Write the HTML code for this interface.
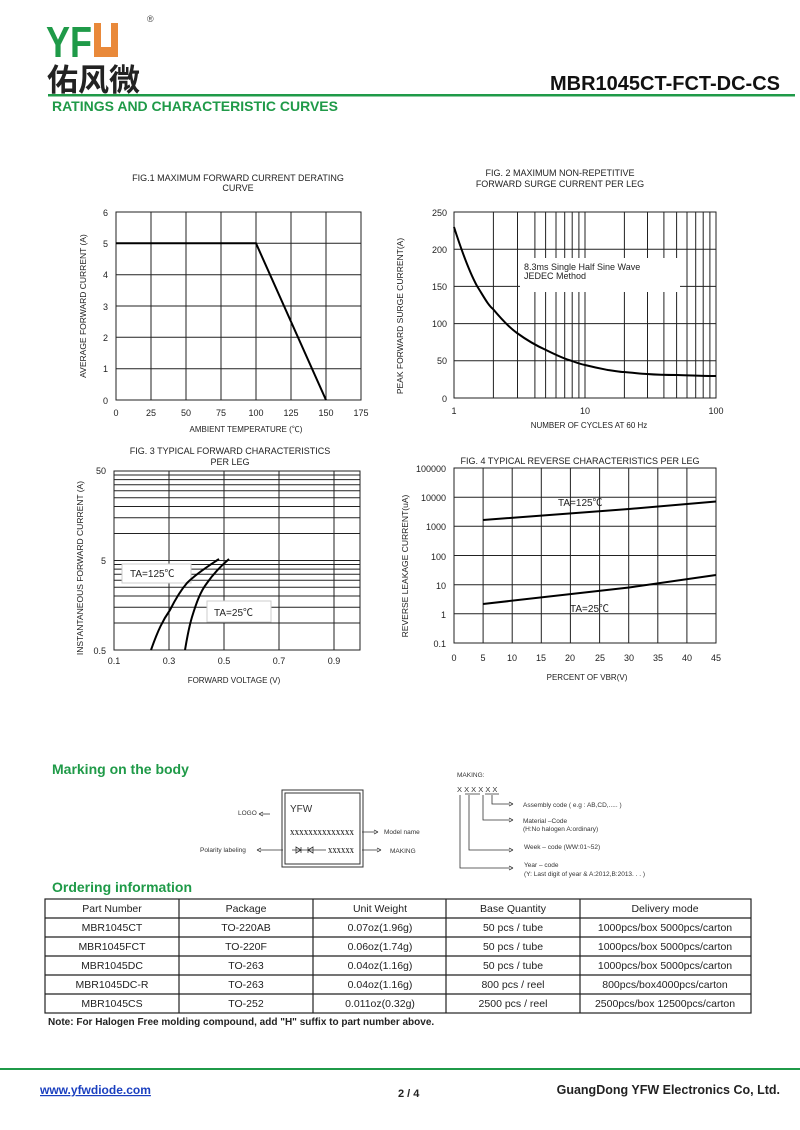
<!DOCTYPE html>
<html><head><meta charset="utf-8"><style>
html,body{margin:0;padding:0;background:#fff;}
svg{display:block;font-family:"Liberation Sans","Noto Sans CJK SC",sans-serif;}
</style></head><body>
<svg width="800" height="1130" viewBox="0 0 800 1130" xmlns="http://www.w3.org/2000/svg">
<!-- Header -->
<text x="46" y="57" font-size="44" font-weight="bold" fill="#1f9a48" textLength="46" lengthAdjust="spacingAndGlyphs">YF</text>
<rect x="94" y="23" width="24" height="34" fill="#e9893a"/>
<rect x="101" y="23" width="10" height="24" fill="#fff"/>
<text x="147" y="22" font-size="9" fill="#444">®</text>
<text x="47" y="91" font-size="31" font-weight="bold" fill="#222" font-family="'Noto Sans CJK SC',sans-serif">佑风微</text>
<text x="780" y="90" font-size="20" font-weight="bold" fill="#111" text-anchor="end">MBR1045CT-FCT-DC-CS</text>
<rect x="48" y="94" width="747" height="2.5" fill="#1f9a48"/>
<text x="52" y="111" font-size="14" font-weight="bold" fill="#1f9a48">RATINGS AND CHARACTERISTIC CURVES</text>

<g font-size="9" fill="#222">
<!-- FIG 1 -->
<text x="238" y="181" text-anchor="middle">FIG.1 MAXIMUM FORWARD CURRENT DERATING</text>
<text x="238" y="191" text-anchor="middle">CURVE</text>
<g stroke="#222" stroke-width="1">
<rect x="116" y="212" width="245" height="188" fill="none"/>
<path d="M151 212V400M186 212V400M221 212V400M256 212V400M291 212V400M326 212V400M116 243.3H361M116 274.7H361M116 306H361M116 337.3H361M116 368.7H361"/>
</g>
<path d="M116 243.3H256L326 400" fill="none" stroke="#000" stroke-width="2"/>
<g text-anchor="end"><text x="108" y="216">6</text><text x="108" y="247">5</text><text x="108" y="278">4</text><text x="108" y="310">3</text><text x="108" y="341">2</text><text x="108" y="372">1</text><text x="108" y="404">0</text></g>
<g text-anchor="middle"><text x="116" y="416">0</text><text x="151" y="416">25</text><text x="186" y="416">50</text><text x="221" y="416">75</text><text x="256" y="416">100</text><text x="291" y="416">125</text><text x="326" y="416">150</text><text x="361" y="416">175</text>
<text x="246" y="432" font-size="8">AMBIENT TEMPERATURE (℃)</text></g>
<text transform="translate(86,306) rotate(-90)" text-anchor="middle" font-size="8.5">AVERAGE FORWARD CURRENT (A)</text>

<!-- FIG 2 -->
<text x="560" y="176" text-anchor="middle">FIG. 2 MAXIMUM NON-REPETITIVE</text>
<text x="560" y="187" text-anchor="middle">FORWARD SURGE CURRENT PER LEG</text>
<g stroke="#222" stroke-width="1">
<rect x="454" y="212" width="262" height="186" fill="none"/>
<path d="M493.4 212V398M517.5 212V398M534.9 212V398M545.6 212V398M556 212V398M564.7 212V398M572.2 212V398M578.9 212V398M585 212V398M624.4 212V398M647.5 212V398M663.9 212V398M676.6 212V398M687 212V398M695.7 212V398M703.2 212V398M709.9 212V398M454 360.8H716M454 323.6H716M454 286.4H716M454 249.2H716"/>
</g>
<rect x="520" y="258" width="160" height="34" fill="#fff"/>
<path d="M454 227 C462 252,470 273,477 286 C484 297,488 305,493 309 C503 321,510 328,517 333 C528 341,537 346,546 350 C556 355,565 359,572 361 C580 364,585 365,585 365 C597 368,603 369,608 370 C616 371,620 372,624 372 C636 373,641 374,647 374 C660 375,670 375,677 375 C695 375.5,705 376,716 376" fill="none" stroke="#000" stroke-width="2"/>
<text x="524" y="270">8.3ms Single Half Sine Wave</text>
<text x="524" y="279">JEDEC Method</text>
<g text-anchor="end"><text x="447" y="216">250</text><text x="447" y="253">200</text><text x="447" y="290">150</text><text x="447" y="327">100</text><text x="447" y="364">50</text><text x="447" y="402">0</text></g>
<g text-anchor="middle"><text x="454" y="414">1</text><text x="585" y="414">10</text><text x="716" y="414">100</text>
<text x="589" y="428" font-size="8">NUMBER OF CYCLES AT 60 Hz</text></g>
<text transform="translate(403,316) rotate(-90)" text-anchor="middle" font-size="8.5">PEAK FORWARD SURGE CURRENT(A)</text>

<!-- FIG 3 -->
<text x="230" y="454" text-anchor="middle">FIG. 3 TYPICAL FORWARD CHARACTERISTICS</text>
<text x="230" y="465" text-anchor="middle">PER LEG</text>
<g stroke="#222" stroke-width="1">
<rect x="114" y="471" width="246" height="179" fill="none"/>
<path d="M169 471V650M224 471V650M279 471V650M334 471V650
M114 623H360M114 607.2H360M114 596H360M114 587.3H360M114 580.2H360M114 574.3H360M114 569.1H360M114 564.5H360M114 560.5H360
M114 533.5H360M114 517.7H360M114 506.5H360M114 497.8H360M114 490.7H360M114 484.8H360M114 479.6H360M114 475H360"/>
</g>
<rect x="122" y="564" width="69" height="19" fill="#fff" stroke="#ccc"/>
<rect x="207" y="601" width="64" height="21" fill="#fff" stroke="#ccc"/>
<path d="M151 650 C158 630,163 620,170 610 C176 598,181 590,187 583 C197 573,210 565,219 559" fill="none" stroke="#000" stroke-width="2"/>
<path d="M185 650 C187 638,189 627,192 617 C196 604,200 592,207 583 C214 573,222 565,229 559" fill="none" stroke="#000" stroke-width="2"/>
<text x="130" y="577" font-size="10">TA=125℃</text>
<text x="214" y="616" font-size="10">TA=25℃</text>
<g text-anchor="end"><text x="106" y="474">50</text><text x="106" y="564">5</text><text x="106" y="654">0.5</text></g>
<g text-anchor="middle"><text x="114" y="664">0.1</text><text x="169" y="664">0.3</text><text x="224" y="664">0.5</text><text x="279" y="664">0.7</text><text x="334" y="664">0.9</text>
<text x="234" y="683" font-size="8">FORWARD VOLTAGE (V)</text></g>
<text transform="translate(83,568) rotate(-90)" text-anchor="middle" font-size="8.5">INSTANTANEOUS FORWARD CURRENT (A)</text>

<!-- FIG 4 -->
<text x="580" y="464" text-anchor="middle">FIG. 4 TYPICAL REVERSE CHARACTERISTICS PER LEG</text>
<g stroke="#222" stroke-width="1">
<rect x="454" y="468" width="262" height="175" fill="none"/>
<path d="M483.1 468V643M512.2 468V643M541.3 468V643M570.4 468V643M599.6 468V643M628.7 468V643M657.8 468V643M686.9 468V643M454 497.2H716M454 526.3H716M454 555.5H716M454 584.7H716M454 613.8H716"/>
</g>
<path d="M483 520 L629 509 L716 501.5" fill="none" stroke="#000" stroke-width="2"/>
<path d="M483 604 L629 587.5 L716 575" fill="none" stroke="#000" stroke-width="2"/>
<text x="558" y="506" font-size="10">TA=125℃</text>
<text x="570" y="612" font-size="10">TA=25℃</text>
<g text-anchor="end"><text x="446" y="472">100000</text><text x="446" y="501">10000</text><text x="446" y="530">1000</text><text x="446" y="560">100</text><text x="446" y="589">10</text><text x="446" y="618">1</text><text x="446" y="647">0.1</text></g>
<g text-anchor="middle"><text x="454" y="661">0</text><text x="483" y="661">5</text><text x="512" y="661">10</text><text x="541" y="661">15</text><text x="570" y="661">20</text><text x="600" y="661">25</text><text x="629" y="661">30</text><text x="658" y="661">35</text><text x="687" y="661">40</text><text x="716" y="661">45</text>
<text x="587" y="680" font-size="8">PERCENT OF VBR(V)</text></g>
<text transform="translate(408,566) rotate(-90)" text-anchor="middle" font-size="8.5">REVERSE LEAKAGE CURRENT(uA)</text>
</g>

<!-- Marking -->
<text x="52" y="774" font-size="14" font-weight="bold" fill="#1f9a48">Marking on the body</text>
<g stroke="#333">
<rect x="282" y="790" width="81" height="77" fill="none" stroke-width="1"/>
<rect x="285" y="793" width="75" height="71" fill="none" stroke-width="1"/>
</g>
<g fill="#333" font-size="6.5">
<text x="290" y="812" font-size="10">YFW</text>
<text x="290" y="835" font-size="7" font-weight="bold" font-family="'Liberation Serif',serif" textLength="64" lengthAdjust="spacingAndGlyphs">XXXXXXXXXXXXXX</text>
<text x="328" y="853" font-size="7" font-weight="bold" font-family="'Liberation Serif',serif" textLength="26" lengthAdjust="spacingAndGlyphs">XXXXXX</text>
<text x="238" y="815">LOGO</text>
<text x="384" y="834">Model name</text>
<text x="390" y="853">MAKING</text>
<text x="200" y="852">Polarity labeling</text>
<text x="457" y="777">MAKING:</text>
<text x="457" y="792" font-size="7.5">X X X X X X</text>
<text x="523" y="807">Assembly code ( e.g : AB,CD,..... )</text>
<text x="523" y="823">Material –Code</text>
<text x="523" y="831">(H:No halogen   A:ordinary)</text>
<text x="524" y="849">Week – code (WW:01~52)</text>
<text x="524" y="867">Year – code</text>
<text x="524" y="876">(Y: Last digit of year &amp; A:2012,B:2013. . . )</text>
</g>
<g stroke="#333" stroke-width="0.8" fill="none">
<path d="M270 814H262M259 814l4-2M259 814l4 2"/>
<path d="M362 832H375M378 832l-4-2M378 832l-4 2"/>
<path d="M362 850H378M381 850l-4-2M381 850l-4 2"/>
<path d="M283 850H260M257 850l4-2M257 850l4 2"/>
<path d="M292 850h34M296 847v6l5-3z M301 847v6 M313 847v6l-5-3z M308 847v6"/>
<path d="M465 794h15M485 794h14"/>
<path d="M460 795V868H510M513 868l-4-2M513 868l-4 2"/>
<path d="M469 795V850H510M513 850l-4-2M513 850l-4 2"/>
<path d="M483 795V820H510M513 820l-4-2M513 820l-4 2"/>
<path d="M492 795V804H510M513 804l-4-2M513 804l-4 2"/>
</g>

<!-- Ordering -->
<text x="52" y="892" font-size="14" font-weight="bold" fill="#1f9a48">Ordering information</text>
<g stroke="#222" stroke-width="1.2" fill="none">
<rect x="45" y="899" width="706" height="114"/>
<path d="M45 918H751M45 937H751M45 956H751M45 975H751M45 994H751M179 899V1013M313 899V1013M446 899V1013M580 899V1013"/>
</g>
<g font-size="10.5" fill="#222" text-anchor="middle">
<text x="112" y="912">Part Number</text><text x="246" y="912">Package</text><text x="380" y="912">Unit Weight</text><text x="513" y="912">Base Quantity</text><text x="665" y="912">Delivery mode</text>
<text x="112" y="931">MBR1045CT</text><text x="246" y="931">TO-220AB</text><text x="380" y="931">0.07oz(1.96g)</text><text x="513" y="931">50 pcs / tube</text><text x="665" y="931">1000pcs/box 5000pcs/carton</text>
<text x="112" y="950">MBR1045FCT</text><text x="246" y="950">TO-220F</text><text x="380" y="950">0.06oz(1.74g)</text><text x="513" y="950">50 pcs / tube</text><text x="665" y="950">1000pcs/box 5000pcs/carton</text>
<text x="112" y="969">MBR1045DC</text><text x="246" y="969">TO-263</text><text x="380" y="969">0.04oz(1.16g)</text><text x="513" y="969">50 pcs / tube</text><text x="665" y="969">1000pcs/box 5000pcs/carton</text>
<text x="112" y="988">MBR1045DC-R</text><text x="246" y="988">TO-263</text><text x="380" y="988">0.04oz(1.16g)</text><text x="513" y="988">800 pcs / reel</text><text x="665" y="988">800pcs/box4000pcs/carton</text>
<text x="112" y="1007">MBR1045CS</text><text x="246" y="1007">TO-252</text><text x="380" y="1007">0.011oz(0.32g)</text><text x="513" y="1007">2500 pcs / reel</text><text x="665" y="1007">2500pcs/box 12500pcs/carton</text>
</g>
<text x="48" y="1025" font-size="10" font-weight="bold" fill="#222">Note: For Halogen Free molding compound, add "H" suffix to part number above.</text>

<!-- Footer -->
<rect x="0" y="1068" width="800" height="2" fill="#1f9a48"/>
<text x="40" y="1094" font-size="12" font-weight="bold" fill="#1a3fbf" text-decoration="underline">www.yfwdiode.com</text>
<text x="398" y="1097" font-size="11" font-weight="bold" fill="#222">2 / 4</text>
<text x="780" y="1094" font-size="12.5" font-weight="bold" fill="#222" text-anchor="end">GuangDong YFW Electronics Co, Ltd.</text>
</svg>
</body></html>
